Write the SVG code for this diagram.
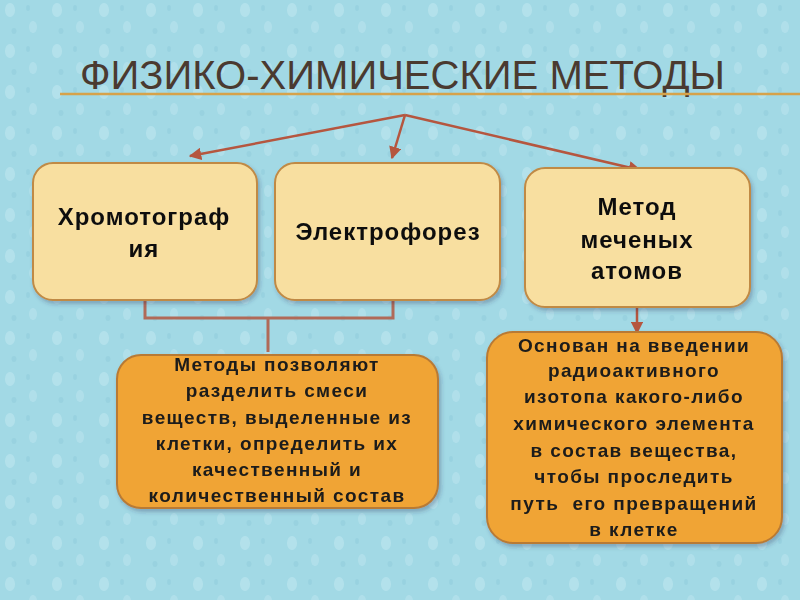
<svg xmlns="http://www.w3.org/2000/svg" width="800" height="600" viewBox="0 0 800 600">
<defs>
<style>
.bg{fill:#a2d9e5}
.title{font-family:"Liberation Sans",Arial,sans-serif;font-size:41px;fill:#4a3a30}
.box1{fill:#f8dfa0;stroke:#c08a45;stroke-width:2}
.box2{fill:#f0a434;stroke:#b87a35;stroke-width:2}
.t1{font-family:"Liberation Sans",Arial,sans-serif;font-weight:bold;font-size:24px;letter-spacing:1px;fill:#111;text-anchor:middle}
.t2{font-family:"Liberation Sans",Arial,sans-serif;font-weight:bold;font-size:19px;letter-spacing:1.4px;fill:#1a1a1a;text-anchor:middle}
.pre{white-space:pre}
.conn{stroke:#b5563f;stroke-width:2.5;fill:none}
.brk{stroke:#b06a58;stroke-width:3;fill:none}
</style>
<marker id="ah" viewBox="0 0 10 10" refX="9" refY="5" markerWidth="5" markerHeight="5" orient="auto-start-reverse">
<path d="M0,0 L10,5 L0,10 z" fill="#b5563f"/>
</marker>
<pattern id="drops" width="47" height="41" patternUnits="userSpaceOnUse">
<ellipse cx="10" cy="10" rx="5" ry="7" fill="#d2f0f6" opacity="0.35"/>
<ellipse cx="33" cy="27" rx="4" ry="6" fill="#d2f0f6" opacity="0.3"/>
<ellipse cx="28" cy="8" rx="2" ry="3" fill="#86c6d5" opacity="0.35"/>
<ellipse cx="14" cy="31" rx="2.5" ry="3" fill="#86c6d5" opacity="0.3"/>
</pattern>
<filter id="sh" x="-10%" y="-10%" width="130%" height="130%">
<feDropShadow dx="2" dy="3" stdDeviation="2" flood-color="#335" flood-opacity="0.3"/>
</filter>
</defs>
<rect class="bg" x="0" y="0" width="800" height="600"/>
<rect x="0" y="0" width="800" height="600" fill="url(#drops)"/>
<g id="title">
<text class="title" x="80" y="89" textLength="645" lengthAdjust="spacingAndGlyphs">ФИЗИКО-ХИМИЧЕСКИЕ МЕТОДЫ</text>
<line x1="60" y1="94" x2="800" y2="94" stroke="#d6a24a" stroke-width="2.5"/>
</g>
<g id="connectors">
<line class="conn" x1="405" y1="115" x2="190" y2="156" marker-end="url(#ah)"/>
<line class="conn" x1="405" y1="115" x2="392" y2="158" marker-end="url(#ah)"/>
<line class="conn" x1="405" y1="115" x2="640" y2="170" marker-end="url(#ah)"/>
<path class="brk" d="M145,300 V318 H393 V300 M268,318 V352"/>
<line class="conn" x1="637" y1="307" x2="637" y2="333" marker-end="url(#ah)"/>
</g>
<g id="node-chrom" filter="url(#sh)">
<rect class="box1" x="33" y="163" width="224" height="137" rx="20"/>
<text class="t1" x="144" y="225">Хромотограф</text>
<text class="t1" x="144" y="257">ия</text>
</g>
<g id="node-electro" filter="url(#sh)">
<rect class="box1" x="275" y="163" width="225" height="137" rx="20"/>
<text class="t1" x="388" y="240">Электрофорез</text>
</g>
<g id="node-atoms" filter="url(#sh)">
<rect class="box1" x="525" y="168" width="225" height="139" rx="20"/>
<text class="t1" x="637" y="215">Метод</text>
<text class="t1" x="637" y="248">меченых</text>
<text class="t1" x="637" y="279">атомов</text>
</g>
<g id="node-methods" filter="url(#sh)">
<rect class="box2" x="117" y="355" width="321" height="153" rx="24"/>
<text class="t2" x="277" y="371">Методы позволяют</text>
<text class="t2" x="277" y="397">разделить смеси</text>
<text class="t2" x="277" y="424">веществ, выделенные из</text>
<text class="t2" x="277" y="450">клетки, определить их</text>
<text class="t2" x="277" y="476">качественный и</text>
<text class="t2" x="277" y="502">количественный состав</text>
</g>
<g id="node-based" filter="url(#sh)">
<rect class="box2" x="487" y="332" width="295" height="211" rx="26"/>
<text class="t2" x="634" y="352">Основан на введении</text>
<text class="t2" x="634" y="377">радиоактивного</text>
<text class="t2" x="634" y="403">изотопа какого-либо</text>
<text class="t2" x="634" y="430">химического элемента</text>
<text class="t2" x="634" y="457">в состав вещества,</text>
<text class="t2" x="634" y="483">чтобы проследить</text>
<text class="t2 pre" x="634" y="510">путь  его превращений</text>
<text class="t2" x="634" y="536">в клетке</text>
</g>
</svg>
